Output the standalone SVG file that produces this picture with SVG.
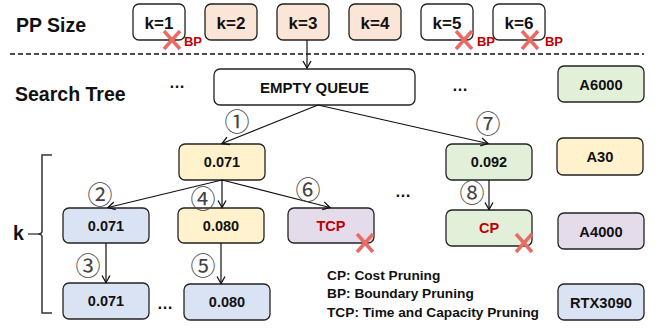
<svg xmlns="http://www.w3.org/2000/svg" width="662" height="328" viewBox="0 0 662 328">
<defs>
<style>
.box{stroke:#222;stroke-width:1.3}
.w{fill:#ffffff}.pe{fill:#fbe5d6}.gr{fill:#e2f0d9}.ye{fill:#fff2cc}.bl{fill:#dae3f3}.pu{fill:#e4dcea}
.t{font-family:"Liberation Sans",Arial,sans-serif;font-weight:bold;fill:#111;text-anchor:middle}
.h{font-family:"Liberation Sans",Arial,sans-serif;font-weight:bold;fill:#111;font-size:19.5px}
.red{fill:#c00000}
.x{stroke:#ea6b66;stroke-width:3.5;fill:none}
.c{font-family:"Noto Sans CJK SC","DejaVu Sans",sans-serif;font-size:25px;fill:#444;text-anchor:middle}
.e{stroke:#111;stroke-width:1.2;fill:none}
.leg{font-family:"Liberation Sans",Arial,sans-serif;font-weight:bold;fill:#111;font-size:13.7px}
</style>
<marker id="ar" markerWidth="10" markerHeight="10" refX="8" refY="5" orient="auto" markerUnits="userSpaceOnUse">
<path d="M1,1 L8,5 L1,9" fill="none" stroke="#111" stroke-width="1.3"/>
</marker>
</defs>
<rect width="662" height="328" fill="#fff"/>

<text class="h" x="16" y="32">PP Size</text>
<text class="h" x="15" y="101">Search Tree</text>
<line x1="10" y1="54" x2="644" y2="54" stroke="#111" stroke-width="1.5" stroke-dasharray="5 3"/>

<g id="k1"><rect class="box w" x="133" y="4" width="52" height="36" rx="6"/><text class="t" x="159" y="29" font-size="17">k=1</text></g>
<g id="k2"><rect class="box pe" x="205" y="4" width="52" height="36" rx="6"/><text class="t" x="231" y="29" font-size="17">k=2</text></g>
<g id="k3"><rect class="box pe" x="277" y="4" width="52" height="36" rx="6"/><text class="t" x="303" y="29" font-size="17">k=3</text></g>
<g id="k4"><rect class="box pe" x="349" y="4" width="52" height="36" rx="6"/><text class="t" x="375" y="29" font-size="17">k=4</text></g>
<g id="k5"><rect class="box w" x="421" y="4" width="52" height="36" rx="6"/><text class="t" x="447" y="29" font-size="17">k=5</text></g>
<g id="k6"><rect class="box w" x="493" y="4" width="52" height="36" rx="6"/><text class="t" x="519" y="29" font-size="17">k=6</text></g>

<g id="bp-marks">
<path class="x" d="M164,31 L180,49 M180,31 L164,49"/><text class="t red" x="193" y="46" font-size="13">BP</text>
<path class="x" d="M456,31 L472,49 M472,31 L456,49"/><text class="t red" x="486" y="46" font-size="13">BP</text>
<path class="x" d="M522,31 L538,49 M538,31 L522,49"/><text class="t red" x="554" y="46" font-size="13">BP</text>
</g>

<g id="empty"><rect class="box w" x="214" y="69" width="201" height="36" rx="6"/><text class="t" x="314.5" y="93" font-size="15">EMPTY QUEUE</text></g>

<g id="gpu-a6000"><rect class="box gr" x="558" y="66" width="86" height="36" rx="6"/><text class="t" x="601" y="89.5" font-size="14.7">A6000</text></g>
<g id="gpu-a30"><rect class="box ye" x="557" y="138" width="86" height="37" rx="6"/><text class="t" x="600" y="161.5" font-size="14.7">A30</text></g>
<g id="gpu-a4000"><rect class="box pu" x="558" y="213" width="86" height="36" rx="6"/><text class="t" x="601" y="236.5" font-size="14.7">A4000</text></g>
<g id="gpu-rtx3090"><rect class="box bl" x="558" y="284" width="86" height="36" rx="6"/><text class="t" x="601" y="307.5" font-size="14.7">RTX3090</text></g>

<g id="n1"><rect class="box ye" x="179" y="144" width="86" height="36" rx="6"/><text class="t" x="222" y="167" font-size="14.5">0.071</text></g>
<g id="n7"><rect class="box gr" x="446" y="144" width="86" height="36" rx="6"/><text class="t" x="489" y="167" font-size="14.5">0.092</text></g>
<g id="n2"><rect class="box bl" x="63" y="208" width="86" height="35" rx="6"/><text class="t" x="106" y="230.5" font-size="14.5">0.071</text></g>
<g id="n4"><rect class="box ye" x="178" y="208" width="86" height="35" rx="6"/><text class="t" x="221" y="230.5" font-size="14.5">0.080</text></g>
<g id="n6"><rect class="box pu" x="288" y="208" width="86" height="35" rx="6"/><text class="t red" x="331" y="230.5" font-size="14.5">TCP</text>
<path class="x" d="M357,234 L373,252 M373,234 L357,252"/></g>
<g id="n8"><rect class="box gr" x="446" y="210" width="86" height="36" rx="6"/><text class="t red" x="489" y="233" font-size="14.5">CP</text>
<path class="x" d="M516,234 L532,252 M532,234 L516,252"/></g>
<g id="n3"><rect class="box bl" x="63" y="283" width="86" height="36" rx="6"/><text class="t" x="106" y="306" font-size="14.5">0.071</text></g>
<g id="n5"><rect class="box bl" x="184" y="284" width="86" height="36" rx="6"/><text class="t" x="227" y="307" font-size="14.5">0.080</text></g>

<g id="connectors">
<line class="e" x1="307" y1="40" x2="307" y2="68" marker-end="url(#ar)" stroke-width="1.6"/>
<line class="e" x1="318" y1="105" x2="222" y2="143.5" marker-end="url(#ar)"/>
<line class="e" x1="318" y1="105" x2="488" y2="143.5" marker-end="url(#ar)"/>
<line class="e" x1="222" y1="180" x2="108" y2="207.5" marker-end="url(#ar)"/>
<line class="e" x1="222" y1="180" x2="222" y2="207.5" marker-end="url(#ar)"/>
<line class="e" x1="222" y1="180" x2="330" y2="207.5" marker-end="url(#ar)"/>
<line class="e" x1="489" y1="180" x2="489" y2="209.5" marker-end="url(#ar)"/>
<line class="e" x1="106" y1="243" x2="106" y2="282.5" marker-end="url(#ar)"/>
<line class="e" x1="221" y1="243" x2="221" y2="283.5" marker-end="url(#ar)"/>
</g>

<g id="step-labels">
<text class="c" x="237" y="131">①</text>
<text class="c" x="100" y="204">②</text>
<text class="c" x="88" y="275">③</text>
<text class="c" x="203" y="208">④</text>
<text class="c" x="203" y="275">⑤</text>
<text class="c" x="308" y="199">⑥</text>
<text class="c" x="488" y="133">⑦</text>
<text class="c" x="472" y="202">⑧</text>
</g>

<g id="dots">
<text class="t" x="177" y="88" font-size="16">…</text>
<text class="t" x="460" y="91" font-size="16">…</text>
<text class="t" x="403" y="197" font-size="16">…</text>
<text class="t" x="165" y="309" font-size="16">…</text>
</g>

<g id="bracket">
<path d="M52,155 L42,155 L42,231 Q42,234 38,234 Q42,234 42,237 L42,313 L52,313" fill="none" stroke="#333" stroke-width="1.5"/>
<line x1="28" y1="234" x2="38" y2="234" stroke="#333" stroke-width="1.3"/>
<text class="h" x="13" y="240" font-size="17">k</text>
</g>

<g id="legend">
<text class="leg" x="327" y="280">CP: Cost Pruning</text>
<text class="leg" x="327" y="298">BP: Boundary Pruning</text>
<text class="leg" x="327" y="317">TCP: Time and Capacity Pruning</text>
</g>
</svg>
